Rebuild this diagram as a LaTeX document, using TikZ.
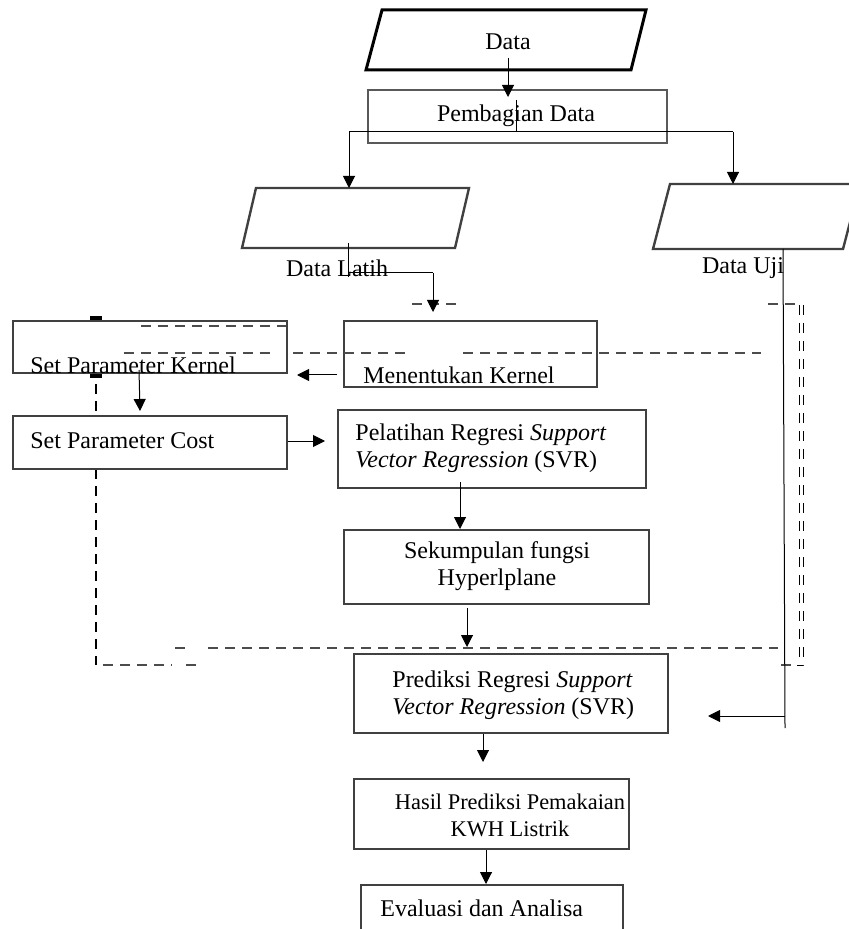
\documentclass[tikz,border=0pt]{standalone}
\usepackage{fontspec}
\setmainfont{Liberation Serif}
\usetikzlibrary{arrows.meta}

\tikzset{
  box/.style={draw=black!75, line width=1pt, fill=white, inner sep=0pt, anchor=north west},
  txt/.style={inner sep=0pt, font=\fontsize{12}{13.5}\selectfont},
  flow/.style={-{Triangle[length=6pt,width=6pt]}, line width=0.5pt},
  bound/.style={line width=0.8pt, black!70, dash pattern=on 5pt off 3.5pt},
}

\begin{document}
\begin{tikzpicture}[x=0.5pt,y=-0.5pt]
  \useasboundingbox (0,0) rectangle (848,929);

  % dashed frame round the training part
  \draw[bound,black] (96,316) -- (96,665);
  \draw[bound] (103,665) -- (172,665);
  \draw[bound] (186,665) -- (196,665);
  \draw[bound] (175,648) -- (186,648);
  \draw[bound] (208,648) -- (778,648);
  \draw[line width=0.5pt,dash pattern=on 5pt off 4pt] (799,305) -- (799,665);
  \draw[line width=0.5pt,dash pattern=on 5pt off 4pt] (803,305) -- (803,665) -- (797,665);
  \draw[bound] (781,665) -- (791,665);
  \draw[bound] (768,304) -- (795,304);
  \draw[bound] (412,304) -- (456,304);

  % input data
  \draw[line width=1.5pt] (382,10) -- (646,10) -- (631,70) -- (366,70) -- cycle;
  \node[txt] (data) at (508,42) {Data};
  \node[box, draw=black!65, line width=1.2pt, fill=none, minimum width=149.5pt, minimum height=26.5pt] (pembagian) at (367,89) {};
  \node[txt] (pembagiantxt) at (516,116) {Pembagian Data};

  % training and testing data
  \draw[black!75, line width=1.2pt] (256,188) -- (469,188) -- (455,248) -- (242,248) -- cycle;
  \draw[black!75, line width=1.2pt] (670,184) -- (860,184) -- (843,249) -- (653,249) -- cycle;
  \node[txt] (latih) at (337,268) {Data Latih};
  \node[txt] (uji) at (743,268) {Data Uji};

  % process boxes
  \node[box, minimum width=137pt, minimum height=26pt] (kernelset) at (12,320) {};
  \node[box, minimum width=126.5pt, minimum height=33pt] (kernel) at (343,320) {};
  \node[box, minimum width=137pt, minimum height=26.5pt] (cost) at (12,415) {};
  \node[box, minimum width=154pt, minimum height=39pt] (train) at (337,409) {};
  \node[box, minimum width=152.5pt, minimum height=37pt] (hyper) at (343,529) {};
  \node[box, minimum width=157pt, minimum height=39.5pt] (predict) at (353,653) {};
  \node[box, minimum width=137.5pt, minimum height=35pt] (result) at (353,778) {};
  \node[box, minimum width=131pt, minimum height=32pt] (eval) at (360,884) {};

  % dashes that show through the boxes
  \draw[bound] (141,326) -- (286,326);
  \draw[bound] (124,353) -- (272,353);
  \draw[bound] (293,353) -- (406,353);
  \draw[bound] (463,353) -- (761,353);
  \draw[line width=1.8pt] (90,318) -- (102,318);
  \draw[line width=1.8pt] (90,376) -- (102,376);

  \node[txt, anchor=west] (kernelsettxt) at (30,365) {Set Parameter Kernel};
  \node[txt] (kerneltxt) at (459,375) {Menentukan Kernel};
  \node[txt, anchor=west] (costtxt) at (30,441) {Set Parameter Cost};
  \node[txt, anchor=west, align=left] (traintxt) at (355,448)
    {Pelatihan Regresi \textit{Support}\\\textit{Vector Regression} (SVR)};
  \node[txt, align=center] (hypertxt) at (497,566) {Sekumpulan fungsi\\Hyperlplane};
  \node[txt, anchor=west, align=left] (predicttxt) at (392,695)
    {Prediksi Regresi \textit{Support}\\\textit{Vector Regression} (SVR)};
  \node[txt, align=center, font=\fontsize{11.2}{13.5}\selectfont] (resulttxt) at (510,815)
    {Hasil Prediksi Pemakaian\\KWH Listrik};
  \node[txt, anchor=west] (evaltxt) at (380,908) {Evaluasi dan Analisa};

  % junction points
  \coordinate (split) at (516,132);
  \coordinate (splitl) at (349,132);
  \coordinate (splitr) at (733,132);
  \coordinate (latihdown) at (348,243);
  \coordinate (latihturn) at (348,273);
  \coordinate (latihend) at (433,273);
  \coordinate (ujidown) at (783,249);
  \coordinate (ujiturn) at (785,716);
  \coordinate (ujiend) at (785,728);

  % connectors
  \draw[flow] (data.south |- 0,58) -- ([yshift=-4pt]pembagian.north -| data.south);
  \draw[line width=0.5pt] (516,100) -- (split);
  \draw[line width=0.5pt] (splitl) -- (splitr);
  \draw[flow] (splitl) -- (349,188);
  \draw[flow] (splitr) -- (733,184);
  \draw[line width=0.5pt] (latihdown) -- (348,277);
  \draw[line width=0.5pt] (latihturn) -- (latihend);
  \draw[flow] (latihend) -- ([yshift=4pt]kernel.north -| latihend);
  \draw[flow] ([xshift=-3pt]kernel.west |- kerneltxt) -- ([xshift=4.5pt]kernelset.east |- kerneltxt);
  \draw[flow] (139,370) -- ([yshift=2pt]cost.north -| 140,0);
  \draw[flow] (cost.east |- costtxt) -- ([xshift=-6pt]train.west |- costtxt);
  \draw[flow] (460,482) -- (hyper.north -| 460,0);
  \draw[flow] (467,608) -- ([yshift=3pt]predict.north -| 467,0);
  \draw[flow] (predict.south -| 483,0) -- ([yshift=8pt]result.north -| 483,0);
  \draw[flow] (result.south -| 486,0) -- (eval.north -| 486,0);
  \draw[line width=0.5pt] (ujidown) -- (ujiend);
  \draw[flow] (ujiturn) -- ([xshift=19.5pt]predict.east |- ujiturn);
\end{tikzpicture}
\end{document}
